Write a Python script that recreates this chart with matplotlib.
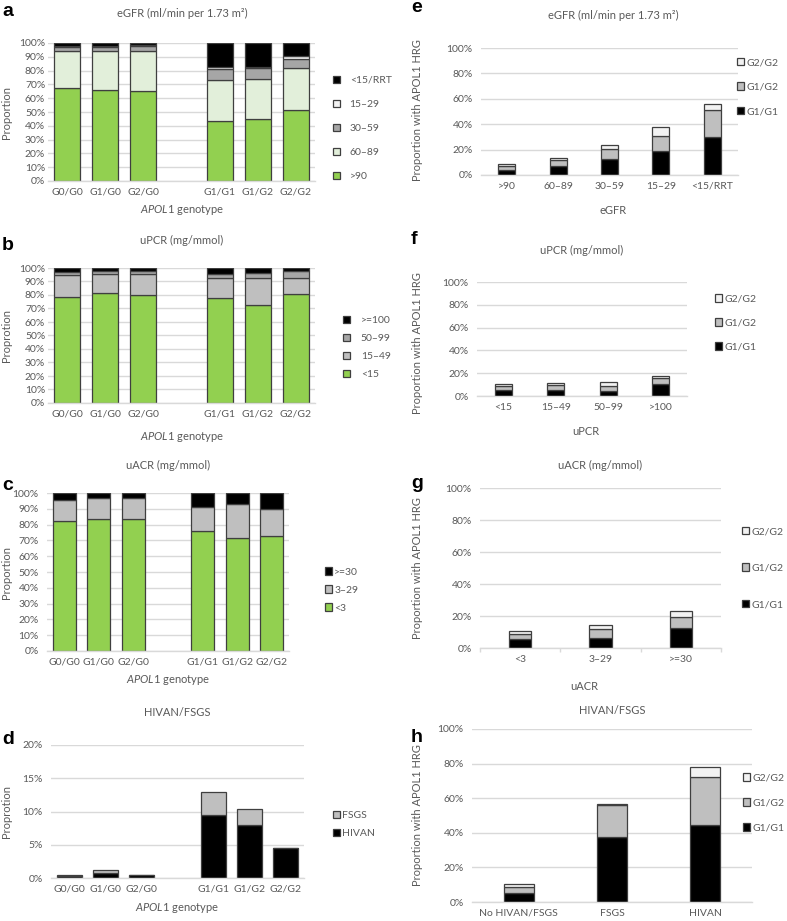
"""
    plot.py

    APOL1 genotype vs kidney outcome, stacked proportion bars (panels a-h)
"""

import matplotlib
matplotlib.use('Agg')
from matplotlib import pyplot as plt
from matplotlib.patches import Patch

plt.rcParams['font.family'] = ['Lato', 'DejaVu Sans']
plt.rcParams['mathtext.fontset'] = 'custom'
plt.rcParams['mathtext.rm'] = 'Lato'
plt.rcParams['mathtext.it'] = 'Lato:italic'

# ---- data (percent) ----
genotypes = ['G0/G0', 'G1/G0', 'G2/G0', 'G1/G1', 'G1/G2', 'G2/G2']
geno_pos = [0, 1, 2, 4, 5, 6]

# a: eGFR by genotype
egfr_gt90 = [67.1, 65.9, 64.9, 43.3, 44.8, 51.1]
egfr_60_89 = [27.0, 28.5, 29.1, 29.8, 29.3, 30.5]
egfr_30_59 = [3.1, 2.6, 3.5, 7.8, 7.5, 6.8]
egfr_15_29 = [0.4, 0.6, 0.9, 1.4, 1.0, 2.2]
egfr_lt15 = [2.4, 2.4, 1.6, 17.7, 17.4, 9.4]

# b: uPCR by genotype
upcr_lt15 = [78.8, 81.5, 80.2, 78.0, 72.8, 80.7]
upcr_15_49 = [15.8, 14.1, 15.4, 14.8, 19.8, 12.1]
upcr_50_99 = [2.7, 2.4, 2.2, 2.8, 3.7, 4.7]
upcr_ge100 = [2.7, 2.0, 2.2, 4.4, 3.7, 2.5]

# c: uACR by genotype
uacr_lt3 = [82.5, 83.5, 83.3, 76.2, 71.5, 72.8]
uacr_3_29 = [13.3, 13.5, 13.7, 15.2, 21.5, 16.9]
uacr_ge30 = [4.2, 3.0, 3.0, 8.6, 7.0, 10.3]

# d: HIVAN/FSGS by genotype
hivan = [0.3, 0.7, 0.45, 9.4, 8.0, 4.5]
fsgs = [0.15, 0.45, 0.0, 3.5, 2.4, 0.0]

# e-h: proportion with APOL1 high-risk genotype
egfr_groups = ['>90', '60–89', '30–59', '15–29', '<15/RRT']
e_g1g1 = [4.2, 7.1, 12.3, 19.1, 29.6]
e_g1g2 = [3.1, 4.4, 8.1, 11.8, 21.4]
e_g2g2 = [1.3, 1.9, 3.2, 6.8, 4.8]

upcr_groups = ['<15', '15–49', '50–99', '>100']
f_g1g1 = [5.5, 5.6, 4.7, 10.9]
f_g1g2 = [3.5, 4.4, 4.4, 5.2]
f_g2g2 = [1.5, 1.4, 3.2, 1.8]

uacr_groups = ['<3', '3–29', '>=30']
g_g1g1 = [5.6, 6.25, 12.5]
g_g1g2 = [3.1, 5.6, 6.7]
g_g2g2 = [1.7, 2.3, 4.1]

dis_groups = ['No HIVAN/FSGS', 'FSGS', 'HIVAN']
h_g1g1 = [5.2, 37.7, 44.5]
h_g1g2 = [3.5, 18.4, 27.6]
h_g2g2 = [1.9, 0.3, 5.8]

# ---- style ----
W, H = 787, 921
TXT = '#595959'
GRID = '#D9D9D9'
EDGE = '#3F3F3F'
FS = 7.5
GREEN = '#92D050'
PALE = '#E2EFDA'
MID = '#A6A6A6'
LIGHT = '#BFBFBF'
WHITE = '#F2F2F2'
BLACK = '#000000'

fig = plt.figure(figsize = (W / 100, H / 100), dpi = 100)


def make_ax(l, t, r, b):
    return fig.add_axes([l / W, 1 - b / H, (r - l) / W, (b - t) / H])


def style(ax, ymax, step, ypad, n):
    ax.set_ylim(0, ymax)
    ticks = list(range(0, ymax + 1, step))
    ax.set_yticks(ticks)
    ax.set_yticklabels(['%d%%' % t for t in ticks])
    ax.set_xlim(-0.5, n - 0.5)
    ax.grid(axis = 'y', color = GRID, lw = 1.0)
    ax.set_axisbelow(True)
    for s in ['top', 'right', 'left']:
        ax.spines[s].set_visible(False)
    ax.spines['bottom'].set_color(GRID)
    ax.spines['bottom'].set_linewidth(1.0)
    ax.tick_params(length = 0, labelsize = FS, colors = TXT)
    ax.tick_params(axis = 'y', pad = ypad)
    ax.tick_params(axis = 'x', pad = 5)


def stack(ax, x, series, colors, width):
    bottom = [0.0] * len(x)
    for vals, c in zip(series, colors):
        ax.bar(x, vals, width, bottom = bottom, color = c, edgecolor = EDGE, lw = 0.9)
        bottom = [b + v for b, v in zip(bottom, vals)]


def legend(ax, labels, colors, x, yc, spacing, pad):
    handles = [Patch(facecolor = c, edgecolor = EDGE, lw = 0.9) for c in colors]
    fs_px = FS * 100 / 72
    ax.legend(handles, labels, loc = 'center left', bbox_to_anchor = (x / W, 1 - yc / H),
              bbox_transform = fig.transFigure, frameon = False, borderpad = 0,
              borderaxespad = 0, handlelength = 0.7, handleheight = 0.7,
              handletextpad = pad, labelspacing = (spacing - fs_px) / fs_px,
              fontsize = FS, labelcolor = TXT)


def label(x, y, s, **kw):
    kw.setdefault('color', TXT)
    kw.setdefault('fontsize', FS + 0.5)
    fig.text(x / W, 1 - y / H, s, ha = 'center', va = 'center', **kw)


def letter(x, y, s):
    fig.text(x / W, 1 - y / H, s, ha = 'left', va = 'center', fontsize = 14,
             fontweight = 'bold', family = ['Liberation Sans'])


genolab = r'$\mathit{APOL1}$ genotype'

# a
ax = make_ax(48, 43, 315, 181)
stack(ax, geno_pos, [egfr_gt90, egfr_60_89, egfr_30_59, egfr_15_29, egfr_lt15],
      [GREEN, PALE, MID, WHITE, BLACK], 0.68)
style(ax, 100, 10, 2, 7)
ax.set_xticks(geno_pos)
ax.set_xticklabels(genotypes)
legend(ax, ['<15/RRT', '15–29', '30–59', '60–89', '>90'],
       [BLACK, WHITE, MID, PALE, GREEN], 333, 128.5, 25.2, 0.9)
label(182, 13, 'eGFR (ml/min per 1.73 m²)')
label(182, 210, genolab)
label(7, 112, 'Proportion', rotation = 90)
letter(2, 12, 'a')

# b
ax = make_ax(48, 268, 315, 403)
stack(ax, geno_pos, [upcr_lt15, upcr_15_49, upcr_50_99, upcr_ge100],
      [GREEN, LIGHT, MID, BLACK], 0.68)
style(ax, 100, 10, 2, 7)
ax.set_xticks(geno_pos)
ax.set_xticklabels(genotypes)
legend(ax, ['>=100', '50–99', '15–49', '<15'],
       [BLACK, MID, LIGHT, GREEN], 343, 347.5, 19, 1.0)
label(182, 240, 'uPCR (mg/mmol)')
label(182, 437, genolab)
label(7, 335, 'Proprotion', rotation = 90)
letter(2, 245, 'b')

# c
ax = make_ax(47, 493, 289, 651)
stack(ax, geno_pos, [uacr_lt3, uacr_3_29, uacr_ge30], [GREEN, LIGHT, BLACK], 0.67)
style(ax, 100, 10, 6, 7)
ax.set_xticks(geno_pos)
ax.set_xticklabels(genotypes)
legend(ax, ['>=30', '3–29', '<3'], [BLACK, LIGHT, GREEN], 325, 590, 19, 0.2)
label(168, 465, 'uACR (mg/mmol)')
label(168, 680, genolab)
label(7, 572, 'Proportion', rotation = 90)
letter(2, 485, 'c')

# d
ax = make_ax(51, 745, 304, 878)
stack(ax, geno_pos, [hivan, fsgs], [BLACK, LIGHT], 0.69)
style(ax, 20, 5, 6, 7)
ax.set_xticks(geno_pos)
ax.set_xticklabels(genotypes)
legend(ax, ['FSGS', 'HIVAN'], [LIGHT, BLACK], 333, 824.5, 19, 0.2)
label(177, 712, 'HIVAN/FSGS')
label(177, 908, genolab)
label(7, 812, 'Proprotion', rotation = 90)
letter(2, 739, 'd')

hrg_labels = ['G2/G2', 'G1/G2', 'G1/G1']
hrg_colors = [WHITE, LIGHT, BLACK]

# e
ax = make_ax(481, 48, 738, 175)
x = range(len(egfr_groups))
stack(ax, x, [e_g1g1, e_g1g2, e_g2g2], [BLACK, LIGHT, WHITE], 0.33)
style(ax, 100, 20, 6, len(egfr_groups))
ax.set_xticks(x)
ax.set_xticklabels(egfr_groups)
legend(ax, hrg_labels, hrg_colors, 737, 87, 25.5, 0.2)
label(613, 15, 'eGFR (ml/min per 1.73 m²)')
label(613, 210, 'eGFR')
label(418, 110, 'Proportion with APOL1 HRG', rotation = 90)
letter(411, 8, 'e')

# f
ax = make_ax(477, 282, 687, 396)
x = range(len(upcr_groups))
stack(ax, x, [f_g1g1, f_g1g2, f_g2g2], [BLACK, LIGHT, WHITE], 0.32)
style(ax, 100, 20, 6, len(upcr_groups))
ax.set_xticks(x)
ax.set_xticklabels(upcr_groups)
legend(ax, hrg_labels, hrg_colors, 715, 323, 25, 0.2)
label(582, 250, 'uPCR (mg/mmol)')
label(586, 431, 'uPCR')
label(418, 343, 'Proportion with APOL1 HRG', rotation = 90)
letter(411, 240, 'f')

# g
ax = make_ax(480, 488, 721, 648)
x = range(len(uacr_groups))
stack(ax, x, [g_g1g1, g_g1g2, g_g2g2], [BLACK, LIGHT, WHITE], 0.28)
style(ax, 100, 20, 6, len(uacr_groups))
ax.set_xticks(x)
ax.set_xticklabels(uacr_groups)
ax.set_xticks([i - 0.5 for i in range(len(uacr_groups) + 1)], minor = True)
ax.tick_params(axis = 'x', which = 'minor', length = 3, color = GRID, width = 1.0)
legend(ax, hrg_labels, hrg_colors, 742, 568, 37.5, 0.2)
label(600, 465, 'uACR (mg/mmol)')
label(584, 686, 'uACR')
label(418, 568, 'Proportion with APOL1 HRG', rotation = 90)
letter(411, 483, 'g')

# h
ax = make_ax(472, 729, 752, 902)
x = range(len(dis_groups))
stack(ax, x, [h_g1g1, h_g1g2, h_g2g2], [BLACK, LIGHT, WHITE], 0.32)
style(ax, 100, 20, 6, len(dis_groups))
ax.set_xticks(x)
ax.set_xticklabels(dis_groups)
legend(ax, hrg_labels, hrg_colors, 743, 803, 26, 0.2)
label(612, 710, 'HIVAN/FSGS')
label(418, 815, 'Proportion with APOL1 HRG', rotation = 90)
letter(411, 737, 'h')

fig.savefig('out.png', dpi = 100)
